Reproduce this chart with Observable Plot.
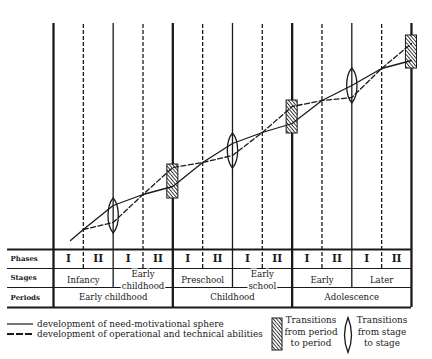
<!DOCTYPE html>
<html><head><meta charset="utf-8">
<script src="https://cdn.jsdelivr.net/npm/d3@7"></script>
<script src="https://cdn.jsdelivr.net/npm/@observablehq/plot@0.6"></script>
<style>
body{margin:0;background:#fff;font-family:"DejaVu Serif",serif;color:#1a1a1a}
#wrap{position:relative;width:432px;height:359px;overflow:hidden}
#legend{position:absolute;left:0;top:312px;width:432px;height:47px;font-size:8.9px}
#legend .a{position:absolute;white-space:nowrap;line-height:10px}
#legend .c{position:absolute;text-align:center;line-height:11.5px;white-space:nowrap}
#legend svg{position:absolute;overflow:visible}
</style></head><body>
<div id="wrap"><div id="chart"></div>
<div id="legend">
  <svg style="left:7px;top:7px" width="26" height="10"><line x1="0" x2="26" y1="5" y2="5" stroke="#1a1a1a" stroke-width="1.2"/></svg>
  <div class="a" style="left:37px;top:7px">development of need-motivational sphere</div>
  <svg style="left:7px;top:17px" width="26" height="10"><line x1="0" x2="26" y1="5" y2="5" stroke="#1a1a1a" stroke-width="2" stroke-dasharray="7,2"/></svg>
  <div class="a" style="left:37px;top:17px">development of operational and technical abilities</div>
  <svg style="left:271px;top:5px" width="12" height="34">
    <defs><pattern id="hatch" patternUnits="userSpaceOnUse" width="2.6" height="2.6" patternTransform="rotate(-40)"><rect width="2.6" height="2.6" fill="#fff"/><line x1="0" y1="0" x2="0" y2="2.6" stroke="#2a2a2a" stroke-width="1.8"/></pattern></defs>
    <rect x="1" y="1" width="10" height="32" fill="url(#hatch)" stroke="#1a1a1a" stroke-width="1"/>
  </svg>
  <div class="c" style="left:281px;top:3px;width:60px">Transitions<br>from period<br>to period</div>
  <svg style="left:342px;top:5px" width="12" height="36"><path d="M6,0.5 Q13,18 6,35.5 Q-1,18 6,0.5Z" fill="none" stroke="#1a1a1a" stroke-width="1.3"/></svg>
  <div class="c" style="left:353px;top:3px;width:58px">Transitions<br>from stage<br>to stage</div>
</div></div>
<script>
// ---- data ----
const phaseBoundaries = [1, 3, 5, 7, 9, 11];
const stageBoundaries = [2, 6, 10];
const periodBoundaries = [0, 4, 8, 12];
const phaseLabels = ["I","II","I","II","I","II","I","II","I","II","I","II"];
const stageLabels = ["Infancy","Early\nchildhood","Preschool","Early\nschool","Early","Later"];
const periodLabels = ["Early childhood","Childhood","Adolescence"];
const rowLabels = ["Phases","Stages","Periods"];

// development of need-motivational sphere (solid)
const needX = [0.57, 1, 2, 3, 4, 5, 6, 7, 8, 9, 10, 11, 12];
const needLevel = [9, 20, 44, 55, 63, 87, 106, 117, 126, 149, 164, 181, 189];
// development of operational and technical abilities (dashed)
const operX = [1, 2, 3, 4, 5, 6, 7, 8, 9, 10, 11, 12];
const operLevel = [20, 27, 55, 82, 87, 94, 117, 143, 149, 152, 181, 206];

// transitions
const periodTransAt = [4, 8, 12];
const periodTransLow = [51, 116, 181];
const periodTransHigh = [85, 149, 214];
const stageTransAt = [2, 6, 10];
const stageTransLevel = [34, 99, 164];

// ---- derived tables ----
const need = needX.map((x, i) => ({x, y: needLevel[i]}));
const oper = operX.map((x, i) => ({x, y: operLevel[i]}));
const phases = phaseLabels.map((t, i) => ({t, x: i + 0.5}));
const stages = stageLabels.map((t, i) => ({t, x: i * 2 + 1}));
const periods = periodLabels.map((t, i) => ({t, x: i * 4 + 2}));
const periodTrans = periodTransAt.map((x, i) => ({x, lo: periodTransLow[i], hi: periodTransHigh[i]}));
const stageTrans = stageTransAt.map((x, i) => ({x, y: stageTransLevel[i]}));

// layout constants (table rows in level units, 1 unit = 1px)
const lineTop = 226, rowEdges = [0, -19, -38, -58], rowMid = [-9.5, -28.5, -48];
const tableLeft = -1.54, boxHalf = 0.185;
const ink = "#1a1a1a";

const lens = {draw(ctx) {
  const h = 17.5, w = 5.5;
  ctx.moveTo(0, -h);
  ctx.bezierCurveTo(w * 1.25, -h * 0.55, w * 1.25, h * 0.55, 0, h);
  ctx.bezierCurveTo(-w * 1.25, h * 0.55, -w * 1.25, -h * 0.55, 0, -h);
  ctx.closePath();
}};

const chart = Plot.plot({
  width: 432, height: 312, margin: 0,
  x: {domain: [-1.777, 12.705], axis: null},
  y: {domain: [-63, 249], axis: null},
  style: {fontFamily: "DejaVu Serif, serif", background: "white", color: ink},
  marks: [
    Plot.ruleX(phaseBoundaries, {x: d => d, y1: rowEdges[1], y2: lineTop, stroke: ink, strokeWidth: 1.3, strokeDasharray: "4,2"}),
    Plot.ruleX(stageBoundaries, {x: d => d, y1: rowEdges[2], y2: lineTop, stroke: ink, strokeWidth: 1.3}),
    Plot.ruleX(periodBoundaries, {x: d => d, y1: rowEdges[3], y2: lineTop, stroke: ink, strokeWidth: 2.3}),
    Plot.ruleY(rowEdges, {y: d => d, x1: tableLeft, x2: 12, stroke: ink, strokeWidth: (d, i) => (i === 0 || i === 3) ? 1.8 : 1.1}),
    Plot.text(rowLabels, {x: tableLeft + 0.1, y: (d, i) => rowMid[i], text: d => d, textAnchor: "start", fontSize: 7, fontWeight: "bold", fill: ink}),
    Plot.text(phases, {x: "x", y: rowMid[0], text: "t", fontSize: 10.5, fontWeight: "bold", fill: ink}),
    Plot.text(stages, {x: "x", y: rowMid[1] - 1, text: "t", fontSize: 8.6, lineHeight: 1.35, fill: ink, stroke: "white", strokeWidth: 3}),
    Plot.text(periods, {x: "x", y: rowMid[2], text: "t", fontSize: 8.6, fill: ink}),
    Plot.rect(periodTrans, {x1: d => d.x - boxHalf, x2: d => d.x + boxHalf, y1: "lo", y2: "hi", fill: "url(#hatch)", stroke: ink, strokeWidth: 1}),
    Plot.line(need, {x: "x", y: "y", stroke: ink, strokeWidth: 1.3}),
    Plot.line(oper, {x: "x", y: "y", stroke: ink, strokeWidth: 1.3, strokeDasharray: "5,2.5"}),
    Plot.dot(stageTrans, {x: "x", y: "y", symbol: lens, r: 5, fill: "none", stroke: ink, strokeWidth: 1.3})
  ]
});
document.getElementById("chart").appendChild(chart);
</script>
</body></html>
